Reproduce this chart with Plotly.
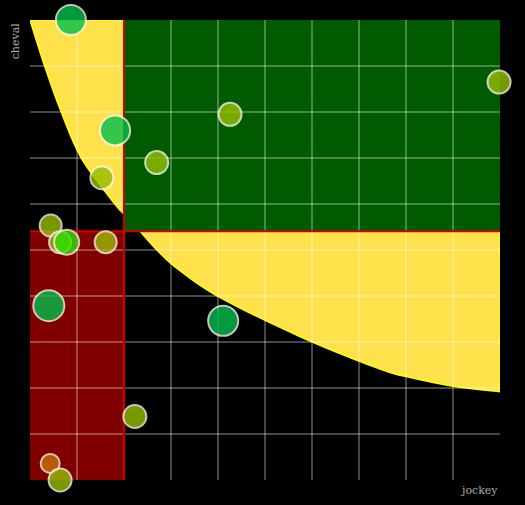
import plotly.graph_objects as go

# ---- data ----
jockey = [0.87, -0.02, 9.98, 1.81, 4.255, 2.695, 1.53, 0.44, 0.64, 0.78, 1.61, 0.40, 4.11, 2.23, 0.43, 0.64]
cheval = [10.0, 8.98, 8.65, 7.60, 7.95, 6.90, 6.57, 5.53, 5.17, 5.17, 5.17, 3.79, 3.46, 1.38, 0.36, 0.0]
sizes = [30, 30, 23, 30, 23, 23, 23, 22, 22, 25, 22, 31, 30, 23, 19, 23]
colors = ["rgb(0,192,75)", "rgb(0,192,75)", "rgb(150,190,0)", "rgb(0,192,75)",
          "rgb(150,190,0)", "rgb(150,190,0)", "rgb(150,190,0)", "rgb(150,190,0)",
          "rgb(150,190,0)", "rgb(45,225,0)", "rgb(155,187,0)", "rgb(0,192,75)",
          "rgb(0,192,75)", "rgb(150,190,0)", "rgb(200,115,0)", "rgb(150,190,0)"]

# boundary of the yellow zone
curve_x = [0.0, 0.313, 0.666, 1.091, 1.79, 2.01, 2.34, 2.70, 3.08, 3.97, 5.74, 7.45, 8.0, 9.0, 10.0]
curve_y = [10.0, 8.993, 7.993, 7.0, 6.02, 5.77, 5.41, 5.0, 4.64, 4.01, 3.12, 2.41, 2.25, 2.04, 1.92]

jockey_threshold = 2.0
cheval_threshold = 5.41
x_range = [0, 10]
y_range = [0, 10]


def smooth_path(xs, ys):
    pts = list(zip(xs, ys))
    n = len(pts)
    d = f"M {pts[0][0]},{pts[0][1]}"
    for i in range(n - 1):
        p0 = pts[i - 1] if i > 0 else pts[i]
        p1 = pts[i]
        p2 = pts[i + 1]
        p3 = pts[i + 2] if i + 2 < n else pts[i + 1]
        c1 = (p1[0] + (p2[0] - p0[0]) / 6, p1[1] + (p2[1] - p0[1]) / 6)
        c2 = (p2[0] - (p3[0] - p1[0]) / 6, p2[1] - (p3[1] - p1[1]) / 6)
        d += f" C {c1[0]},{c1[1]} {c2[0]},{c2[1]} {p2[0]},{p2[1]}"
    return d


yellow_path = smooth_path(curve_x, curve_y) + f" L {x_range[1]},{y_range[1]} Z"

fig = go.Figure()
fig.add_trace(go.Scatter(
    x=jockey, y=cheval, mode="markers", cliponaxis=False,
    marker=dict(size=sizes, color=colors, opacity=0.8,
                line=dict(color="rgb(245,245,235)", width=2)),
    hoverinfo="x+y", showlegend=False,
))

shapes = [
    dict(type="path", path=yellow_path, xref="x", yref="y", layer="below",
         fillcolor="rgb(255,225,75)", line=dict(color="rgb(255,255,0)", width=1.5)),
    dict(type="rect", xref="x", yref="y", layer="below",
         x0=jockey_threshold, x1=x_range[1], y0=cheval_threshold, y1=y_range[1],
         fillcolor="rgb(0,90,0)", line=dict(width=0)),
    dict(type="rect", xref="x", yref="y", layer="below",
         x0=x_range[0], x1=jockey_threshold, y0=y_range[0], y1=cheval_threshold,
         fillcolor="rgb(128,0,0)", line=dict(width=0)),
    dict(type="line", xref="x", yref="y", layer="between",
         x0=jockey_threshold, x1=jockey_threshold, y0=y_range[0], y1=y_range[1],
         line=dict(color="rgb(205,0,0)", width=2)),
    dict(type="line", xref="x", yref="y", layer="between",
         x0=x_range[0], x1=x_range[1], y0=cheval_threshold, y1=cheval_threshold,
         line=dict(color="rgb(205,0,0)", width=2)),
]

axis_common = dict(dtick=1, showticklabels=False, ticks="", zeroline=False,
                   showgrid=True, gridcolor="rgba(255,255,255,0.28)", gridwidth=1.5,
                   showline=False, fixedrange=True)

fig.update_layout(
    width=525, height=505,
    margin=dict(l=30, r=25, t=20, b=25),
    paper_bgcolor="black", plot_bgcolor="black",
    xaxis=dict(range=x_range, **axis_common),
    yaxis=dict(range=y_range, **axis_common),
    shapes=shapes,
    annotations=[
        dict(text="jockey", xref="paper", yref="paper", x=1.0, y=-0.022,
             xanchor="right", yanchor="middle", showarrow=False,
             font=dict(family="DejaVu Serif", size=11, color="#aaaaaa")),
        dict(text="cheval", xref="paper", yref="paper", x=-0.0302, y=1.0,
             xanchor="center", yanchor="top", textangle=-90, showarrow=False,
             font=dict(family="DejaVu Serif", size=11, color="#aaaaaa")),
    ],
)

fig.write_html(
    "out.html",
    config={"displayModeBar": False},
    post_script="document.body.style.margin='0';document.body.style.background='black';",
)
